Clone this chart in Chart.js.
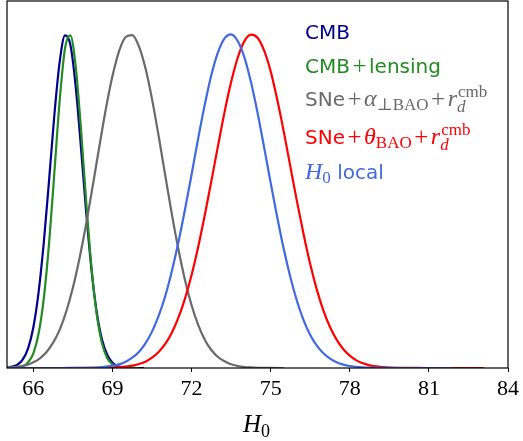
<!DOCTYPE html>
<html>
<head>
<meta charset="utf-8">
<title>H0 posteriors</title>
<script src="https://cdn.jsdelivr.net/npm/chart.js@4.4.1/dist/chart.umd.min.js"></script>
<style>
  body { margin: 0; background: #fff; }
  canvas { display: block; }
</style>
</head>
<body>
<canvas id="h0Chart" width="523" height="441"></canvas>
<script>
// H0 grid + normalised posteriors (peak = 1)

// CMB
const cmbX = [65.0, 65.2, 65.4, 65.6, 65.8, 66.0, 66.2, 66.4, 66.6, 66.8, 67.0, 67.2, 67.4,
	67.6, 67.8, 68.0, 68.2, 68.4, 68.6, 68.8, 69.0, 69.2, 69.4, 69.6, 69.8, 70.0, 70.2];
const cmbY = [0.001, 0.004, 0.010, 0.026, 0.059, 0.122, 0.228, 0.380, 0.567, 0.762, 0.919, 0.997, 0.970,
	0.848, 0.666, 0.470, 0.298, 0.169, 0.086, 0.040, 0.016, 0.006, 0.002, 0.0006, 0.0002, 0, 0];

// CMB + lensing
const lensX = [65.0, 65.2, 65.4, 65.6, 65.8, 66.0, 66.2, 66.4, 66.6, 66.8, 67.0, 67.2, 67.4,
	67.6, 67.8, 68.0, 68.2, 68.4, 68.6, 68.8, 69.0, 69.2, 69.4, 69.6, 69.8, 70.0];
const lensY = [0.0001, 0.0004, 0.0015, 0.005, 0.017, 0.044, 0.104, 0.212, 0.378, 0.590, 0.804, 0.958, 0.997,
	0.908, 0.722, 0.502, 0.305, 0.162, 0.075, 0.030, 0.011, 0.003, 0.001, 0.0002, 0, 0];

// SNe + alpha_perp BAO + r_d(cmb)
const alphaX = [65.0, 65.25, 65.5, 65.75, 66.0, 66.25, 66.5, 66.75, 67.0, 67.25, 67.5, 67.75,
	68.0, 68.25, 68.5, 68.75, 69.0, 69.25, 69.5, 69.75, 70.0, 70.25, 70.5, 70.75,
	71.0, 71.25, 71.5, 71.75, 72.0, 72.25, 72.5, 72.75, 73.0, 73.25, 73.5, 73.75,
	74.0, 74.25, 74.5, 74.75, 75.0, 75.5];
const alphaY = [0.0013, 0.0027, 0.005, 0.009, 0.017, 0.029, 0.048, 0.076, 0.115, 0.170, 0.241, 0.329,
	0.431, 0.545, 0.663, 0.777, 0.875, 0.950, 0.992, 0.998, 0.965, 0.899, 0.806, 0.696,
	0.578, 0.462, 0.356, 0.264, 0.188, 0.129, 0.085, 0.054, 0.033, 0.020, 0.011, 0.006,
	0.003, 0.0016, 0.0008, 0.0004, 0.0002, 0];

// SNe + theta BAO + r_d(cmb)
const thetaX = [65.0, 67.0, 68.5, 69.0, 69.5, 69.75, 70.0, 70.25, 70.5, 70.75, 71.0, 71.25,
	71.5, 71.75, 72.0, 72.25, 72.5, 72.75, 73.0, 73.25, 73.5, 73.75, 74.0, 74.25,
	74.5, 74.75, 75.0, 75.25, 75.5, 75.75, 76.0, 76.25, 76.5, 76.75, 77.0, 77.25,
	77.5, 77.75, 78.0, 78.25, 78.5, 78.75, 79.0, 79.5, 80.0, 80.5, 81.0, 82.0, 83.1];
const thetaY = [0, 0, 0.0002, 0.001, 0.004, 0.007, 0.012, 0.019, 0.031, 0.048, 0.072, 0.106,
	0.151, 0.208, 0.279, 0.363, 0.458, 0.560, 0.665, 0.767, 0.857, 0.930, 0.979, 0.999,
	0.990, 0.952, 0.889, 0.804, 0.707, 0.602, 0.498, 0.400, 0.311, 0.235, 0.172, 0.123,
	0.085, 0.057, 0.037, 0.023, 0.014, 0.008, 0.005, 0.0015, 0.0004, 0.0001, 0, 0, 0];

// local distance ladder
const localX = [65.0, 66.0, 67.0, 67.5, 68.0, 68.5, 68.75, 69.0, 69.25, 69.5, 69.75, 70.0,
	70.25, 70.5, 70.75, 71.0, 71.25, 71.5, 71.75, 72.0, 72.25, 72.5, 72.75, 73.0,
	73.25, 73.5, 73.75, 74.0, 74.25, 74.5, 74.75, 75.0, 75.25, 75.5, 75.75, 76.0,
	76.25, 76.5, 76.75, 77.0, 77.25, 77.5, 77.75, 78.0, 78.5, 79.0, 79.5, 80.0, 81.0, 81.85];
const localY = [0, 0, 0, 0.0001, 0.0005, 0.002, 0.004, 0.007, 0.011, 0.019, 0.031, 0.048,
	0.074, 0.109, 0.156, 0.215, 0.290, 0.377, 0.475, 0.580, 0.688, 0.789, 0.878, 0.946,
	0.988, 1.0, 0.980, 0.932, 0.858, 0.766, 0.662, 0.555, 0.451, 0.355, 0.271, 0.200,
	0.143, 0.099, 0.067, 0.044, 0.028, 0.017, 0.010, 0.006, 0.002, 0.0005, 0.0001, 0, 0, 0];

const tickValues = [66, 69, 72, 75, 78, 81, 84];

const seriesColors = ['#00008b', '#228b22', '#696969', '#ff0000', '#4169e1'];

const serif = '"Liberation Serif", "DejaVu Serif", serif';
const sans = '"DejaVu Sans", sans-serif';

// legend rows, one list of text runs per series
const legendRows = [
	[{ t: 'CMB', f: 'sans' }],
	[{ t: 'CMB', f: 'sans' }, { t: '+', f: 'op' }, { t: 'lensing', f: 'sans' }],
	[{ t: 'SNe', f: 'sans' }, { t: '+', f: 'op' }, { t: 'α', f: 'it' }, { sub: '⊥BAO' },
		{ t: '+', f: 'op' }, { t: 'r', f: 'it' }, { sup: 'cmb', sub: 'd', subIt: true }],
	[{ t: 'SNe', f: 'sans' }, { t: '+', f: 'op' }, { t: 'θ', f: 'it' }, { sub: 'BAO' },
		{ t: '+', f: 'op' }, { t: 'r', f: 'it' }, { sup: 'cmb', sub: 'd', subIt: true }],
	[{ t: 'H', f: 'it' }, { sub: '0' }, { t: ' local', f: 'sans' }]
];
const legendBaselines = [39, 73, 106, 144, 179];

const fonts = {
	sans: '20px ' + sans,
	op: '25px ' + serif,
	it: 'italic 24px ' + serif,
	small: '17px ' + serif,
	smallIt: 'italic 17px ' + serif
};

function toPoints(xs, ys) {
	return xs.map((x, i) => ({ x: x, y: ys[i] }));
}

function drawRuns(ctx, runs, x, y, color) {
	ctx.fillStyle = color;
	ctx.textBaseline = 'alphabetic';
	ctx.textAlign = 'left';
	runs.forEach(run => {
		if (run.t !== undefined) {
			ctx.font = fonts[run.f];
			const pad = run.f === 'op' ? 2.5 : 0;
			x += pad;
			ctx.fillText(run.t, x, y + (run.f === 'op' ? 1 : 0));
			x += ctx.measureText(run.t).width + pad;
		} else {
			let w = 0;
			if (run.sup) {
				ctx.font = fonts.small;
				ctx.fillText(run.sup, x + 1, y - 9);
				w = Math.max(w, ctx.measureText(run.sup).width + 1);
			}
			if (run.sub) {
				ctx.font = run.subIt ? fonts.smallIt : fonts.small;
				ctx.fillText(run.sub, x, y + (run.sup ? 6 : 4));
				w = Math.max(w, ctx.measureText(run.sub).width);
			}
			x += w;
		}
	});
}

// frame, legend and axis title
const decorPlugin = {
	id: 'decor',
	afterDraw(chart) {
		const ctx = chart.ctx;
		const a = chart.chartArea;
		ctx.save();
		ctx.strokeStyle = '#000';
		ctx.lineWidth = 1.2;
		ctx.strokeRect(a.left, a.top, a.right - a.left, a.bottom - a.top);

		legendRows.forEach((runs, i) => {
			drawRuns(ctx, runs, 305, legendBaselines[i], seriesColors[i]);
		});

		// x axis title: italic H with subscript 0
		ctx.fillStyle = '#000';
		ctx.font = 'italic 25px ' + serif;
		ctx.fillText('H', 243, 432);
		const hw = ctx.measureText('H').width;
		ctx.font = '18px ' + serif;
		ctx.fillText('0', 243 + hw, 437);
		ctx.restore();
	}
};

const labels = ['CMB', 'CMB+lensing', 'SNe+α⊥BAO+rd', 'SNe+θBAO+rd', 'H0 local'];
const seriesX = [cmbX, lensX, alphaX, thetaX, localX];
const seriesY = [cmbY, lensY, alphaY, thetaY, localY];

const data = {
	datasets: labels.map((label, i) => ({
		label: label,
		data: toPoints(seriesX[i], seriesY[i]),
		borderColor: seriesColors[i],
		borderWidth: 2.2,
		pointRadius: 0,
		fill: false,
		cubicInterpolationMode: 'monotone',
		order: labels.length - i
	}))
};

const config = {
	type: 'line',
	data: data,
	options: {
		responsive: false,
		animation: false,
		layout: {
			padding: { left: 7, right: 13, top: 1, bottom: 0 }
		},
		scales: {
			x: {
				type: 'linear',
				min: 65,
				max: 84,
				afterBuildTicks: axis => {
					axis.ticks = tickValues.map(v => ({ value: v }));
				},
				afterFit: scale => {
					scale.height = 73;
				},
				grid: {
					drawOnChartArea: false,
					drawTicks: true,
					tickLength: 4,
					color: '#000',
					lineWidth: 1
				},
				border: { display: false },
				ticks: {
					color: '#000',
					padding: 4,
					maxRotation: 0,
					font: { family: serif, size: 22 },
					callback: v => String(v)
				}
			},
			y: {
				display: false,
				min: 0,
				max: 1.1
			}
		},
		plugins: {
			legend: { display: false },
			tooltip: { enabled: false }
		}
	},
	plugins: [decorPlugin]
};

document.addEventListener('DOMContentLoaded', () => {
	const ctx = document.getElementById('h0Chart').getContext('2d');
	new Chart(ctx, config);
});
</script>
</body>
</html>
